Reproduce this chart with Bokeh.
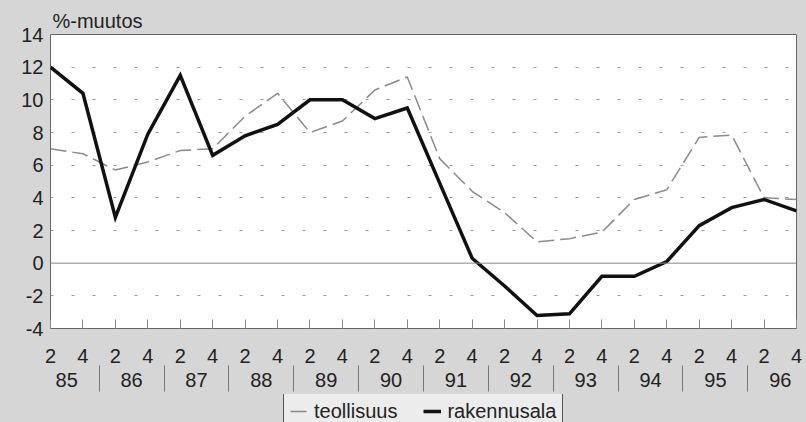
from bokeh.plotting import figure
from bokeh.models import (Range1d, FixedTicker, LinearAxis, Span,
                          Legend, LegendItem)
from bokeh.layouts import column
from bokeh.embed import file_html
from bokeh.resources import INLINE

# ---- data ----
quarter_labels = ["2", "4"] * 12
years = ["85", "86", "87", "88", "89", "90", "91", "92", "93", "94", "95", "96"]
y_ticks = [-4, -2, 0, 2, 4, 6, 8, 10, 12, 14]

teollisuus = [7.0, 6.7, 5.7, 6.2, 6.9, 7.0, 9.0, 10.4, 8.0, 8.7, 10.6, 11.4,
              6.4, 4.4, 3.1, 1.3, 1.5, 1.9, 3.9, 4.5, 7.7, 7.85, 4.0, 3.9]
rakennusala = [12.0, 10.4, 2.8, 7.9, 11.5, 6.6, 7.8, 8.5, 10.0, 10.0, 8.85, 9.5,
               4.9, 0.3, -1.4, -3.2, -3.1, -0.8, -0.8, 0.1, 2.3, 3.4, 3.9, 3.2]

BG = "#d6d6d6"
FONT = "Liberation Sans"
FS = "20px"
TXT = "#222222"
T_STYLE = dict(line_color="#8a8a8a", line_width=1.5, line_dash="16 6")
R_STYLE = dict(line_color="#111111", line_width=3.5, line_join="miter")

n = len(quarter_labels)
xs = list(range(n))

p = figure(width=806, height=394, output_backend="svg", toolbar_location=None,
           x_range=Range1d(0, n - 1), y_range=Range1d(-4, 14),
           min_border_left=50, min_border_right=10, min_border_top=34,
           min_border_bottom=66)
p.background_fill_color = "white"
p.border_fill_color = BG
p.outline_line_color = "#666666"
p.outline_line_width = 1

# title
p.title.text = "%-muutos"
p.title.align = "left"
p.title.offset = 2
p.title.standoff = 6
p.title.text_font = FONT
p.title.text_font_size = FS
p.title.text_font_style = "normal"
p.title.text_color = TXT

# y axis
p.yaxis.ticker = FixedTicker(ticks=y_ticks)
p.yaxis.major_label_overrides = {t: str(t) for t in y_ticks}
p.yaxis.major_tick_in = 0
p.yaxis.major_tick_out = 0
p.yaxis.minor_tick_in = 0
p.yaxis.minor_tick_out = 0
p.yaxis.axis_line_color = None
p.yaxis.major_label_standoff = 7
p.yaxis.major_label_text_font = FONT
p.yaxis.major_label_text_font_size = FS
p.yaxis.major_label_text_color = TXT

# grid
p.xgrid.visible = False
p.ygrid.ticker = FixedTicker(ticks=[t for t in y_ticks if t not in (-4, 0, 14)])
p.ygrid.grid_line_color = "#999999"
p.ygrid.grid_line_dash = "3 18"
p.ygrid.grid_line_width = 1

# x axis: quarter labels
xa = p.xaxis[0]
xa.ticker = FixedTicker(ticks=xs)
xa.major_label_overrides = {i: quarter_labels[i] for i in xs}
xa.major_tick_in = 9
xa.major_tick_out = 0
xa.major_tick_line_color = "#888888"
xa.minor_tick_in = 0
xa.minor_tick_out = 0
xa.axis_line_color = None
xa.major_label_standoff = 20
xa.major_label_text_font = FONT
xa.major_label_text_font_size = FS
xa.major_label_text_color = TXT

# x axis: years with separators
year_pos = [2 * k + 0.5 for k in range(len(years))]
sep_pos = [2 * k + 1.5 for k in range(len(years) - 1)]
ya = LinearAxis(ticker=FixedTicker(ticks=year_pos, minor_ticks=sep_pos))
ya.major_label_overrides = {year_pos[k]: years[k] for k in range(len(years))}
ya.major_tick_in = 0
ya.major_tick_out = 0
ya.minor_tick_in = 0
ya.minor_tick_out = 26
ya.minor_tick_line_color = "#777777"
ya.axis_line_color = None
ya.major_label_standoff = -19
ya.major_label_text_font = FONT
ya.major_label_text_font_size = FS
ya.major_label_text_color = TXT
p.add_layout(ya, "below")

# zero line
p.add_layout(Span(location=0, dimension="width", line_color="#888888",
                  line_width=1))

# series
r1 = p.line(xs, teollisuus, **T_STYLE)
r2 = p.line(xs, rakennusala, **R_STYLE)

# legend strip (separate small figure, box cut off at the bottom edge)
q = figure(width=806, height=28, output_backend="svg", toolbar_location=None,
           x_range=Range1d(0, 1), y_range=Range1d(0, 1),
           x_axis_location=None, y_axis_location=None,
           min_border_left=0, min_border_right=0, min_border_top=0,
           min_border_bottom=0)
q.background_fill_color = BG
q.border_fill_color = BG
q.outline_line_color = None
q.grid.visible = False
l1 = q.line(x=[-10, -9], y=[-10, -10], **T_STYLE)
l2 = q.line(x=[-10, -9], y=[-10, -10], **R_STYLE)

legend = Legend(items=[LegendItem(label="teollisuus", renderers=[l1]),
                       LegendItem(label="rakennusala", renderers=[l2])],
                location=(233, -8), orientation="horizontal")
legend.label_text_font = FONT
legend.label_text_font_size = FS
legend.label_text_color = TXT
legend.glyph_width = 18
legend.glyph_height = 24
legend.label_height = 24
legend.label_standoff = 6
legend.spacing = 26
legend.padding = 6
legend.margin = 0
legend.border_line_color = "#555555"
legend.border_line_alpha = 1.0
legend.border_line_width = 1
legend.background_fill_color = "#ececec"
legend.background_fill_alpha = 1.0
q.add_layout(legend)

layout = column(p, q, spacing=0)

html = file_html(layout, INLINE)
html = html.replace("</head>", "<style>body{background:%s;}</style></head>" % BG, 1)
open("out.html", "w").write(html)
